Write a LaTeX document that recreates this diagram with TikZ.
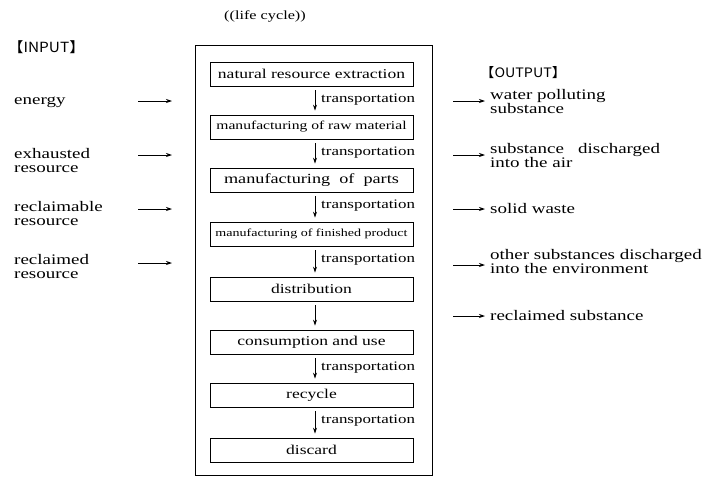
\documentclass[tikz,border=0pt]{standalone}
\usepackage{fontspec}
\setmainfont{Liberation Serif}[FakeStretch=1.3]
\newfontfamily\cjk{Noto Sans CJK JP}[FakeStretch=1.1]
\usetikzlibrary{arrows.meta,positioning}

\begin{document}
\begin{tikzpicture}[
    x=1pt, y=-1pt,
    stage/.style={rectangle, draw, line width=0.8pt, minimum width=203pt, minimum height=24pt, inner sep=0pt, font=\fontsize{13.5}{15}\selectfont},
    lbl/.style={anchor=west, align=left, inner sep=0pt, font=\fontsize{14.6}{14}\selectfont},
    trans/.style={anchor=west, inner sep=0pt, font=\fontsize{13}{14}\selectfont},
    arrow/.style={-{Stealth[length=6pt,width=4pt]}, line width=0.8pt}
]
\useasboundingbox (0,0) rectangle (716,490);

\node[font=\fontsize{12.5}{14}\selectfont] (title) at (265,16) {((life cycle))};
\draw[line width=0.8pt] (195,45) rectangle (432,475);

% life cycle stages
\node[stage] (s1) at (311.5,74) {natural resource extraction};
\node[stage, font=\fontsize{12}{14}\selectfont] (s2) at (311.5,127) {manufacturing of raw material};
\node[stage, font=\fontsize{14}{15}\selectfont] (s3) at (311.5,180) {manufacturing\ \ of\ \ parts};
\node[stage, font=\fontsize{10.8}{12}\selectfont] (s4) at (311.5,234) {manufacturing of finished product};
\node[stage] (s5) at (311.5,289) {distribution};
\node[stage] (s6) at (311.5,342) {consumption and use};
\node[stage] (s7) at (311.5,395) {recycle};
\node[stage] (s8) at (311.5,450) {discard};

\foreach \a/\b in {s1/s2,s2/s3,s3/s4,s4/s5,s6/s7,s7/s8}{
  \draw[arrow] ([yshift=-4pt]\a.south -| 315,0) -- ([yshift=4pt]\b.north -| 315,0);
  \node[trans] at ([xshift=6pt,yshift=-13pt]\a.south -| 315,0) {transportation};
}
\draw[arrow] ([yshift=-4pt]s5.south -| 315,0) -- ([yshift=4pt]s6.north -| 315,0);

% inputs
\node[lbl, font=\cjk\fontsize{14}{14}\selectfont] (in) at (8,47) {【INPUT】};
\node[lbl] (i1) at (14,102) {energy};
\node[lbl] (i2) at (14,161) {exhausted\\resource};
\node[lbl] (i3) at (14,214) {reclaimable\\resource};
\node[lbl] (i4) at (14,267) {reclaimed\\resource};
\foreach \y [count=\i] in {101,155,209,263}{
  \coordinate (ia\i) at (138,\y);
  \coordinate (ib\i) at (172,\y);
  \draw[arrow] (ia\i) -- (ib\i);
}

% outputs
\node[lbl, font=\cjk\fontsize{13}{14}\selectfont] (out) at (480,73) {【OUTPUT】};
\node[lbl] (o1) at (490,102) {water polluting\\substance};
\node[lbl] (o2) at (490,156) {substance\ \ \ discharged\\into the air};
\node[lbl] (o3) at (490,209) {solid waste};
\node[lbl] (o4) at (490,262) {other substances discharged\\into the environment};
\node[lbl] (o5) at (490,316) {reclaimed substance};
\foreach \y [count=\i] in {101,155,209,265,316}{
  \coordinate (oa\i) at (453,\y);
  \coordinate (ob\i) at (485,\y);
  \draw[arrow] (oa\i) -- (ob\i);
}
\end{tikzpicture}
\end{document}
